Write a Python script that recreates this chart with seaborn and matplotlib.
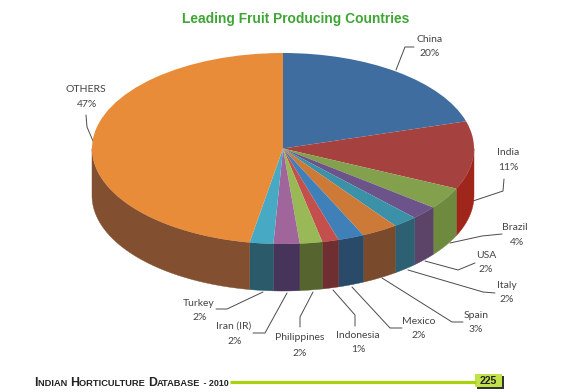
import numpy as np
import matplotlib
matplotlib.use('Agg')
import matplotlib.pyplot as plt
import seaborn as sns

# fatias (sentido horario, a partir do topo)
paises = ['China', 'India', 'Brazil', 'USA', 'Italy', 'Spain', 'Mexico',
          'Indonesia', 'Philippines', 'Iran (IR)', 'Turkey', 'OTHERS']
rotulos = ['20%', '11%', '4%', '2%', '2%', '3%', '2%', '1%', '2%', '2%', '2%', '47%']
shares = [20.4, 11.5, 3.7, 2.3, 2.1, 3.1, 2.2, 1.4, 1.9, 2.2, 2.0, 47.2]

cores_topo = ['#3F6D9F', '#A5423F', '#83A04D', '#6C5389', '#3A91A8', '#CD7A39',
              '#3F80B8', '#C4504E', '#98B955', '#A0669C', '#48A9C5', '#E98C3A']
cores_lado = ['#2F5378', '#A0261C', '#6E8A3F', '#5B4468', '#2D6072', '#7A4A2C',
              '#2A4A6A', '#6F2E30', '#566530', '#47345B', '#2B5A6B', '#825030']

sns.set_theme(style='white')
plt.rcParams['font.family'] = ['Lato', 'DejaVu Sans']

W, H = 580, 392
fig = plt.figure(figsize=(W / 100, H / 100), dpi=100, facecolor='white')

# camada em pixels para textos e linhas
ax = fig.add_axes([0, 0, 1, 1])
ax.set_xlim(0, W)
ax.set_ylim(H, 0)
ax.axis('off')

# elipse do topo da pizza
esq, dir_, cima, baixo = 92, 474, 53, 244
profundidade = 47 / ((baixo - cima) / 2)
ax_pie = fig.add_axes([esq / W, 1 - baixo / H, (dir_ - esq) / W, (baixo - cima) / H])
ax_pie.patch.set_alpha(0)

palette_topo = sns.color_palette(cores_topo)
palette_lado = sns.color_palette(cores_lado)

# lateral visivel: so a metade de baixo da elipse
fim = np.cumsum(shares) / sum(shares) * 360
inicio = np.r_[0, fim[:-1]]
for a, b, cor in zip(inicio, fim, palette_lado):
    a, b = max(a, 90), min(b, 270)
    if b <= a:
        continue
    th = np.radians(np.linspace(a, b, 60))
    xs = np.sin(th)
    ys = np.cos(th)
    ax_pie.fill(np.r_[xs, xs[::-1]], np.r_[ys, ys[::-1] - profundidade],
                color=cor, lw=0.3, clip_on=False)

ax_pie.pie(shares, colors=palette_topo, startangle=90, counterclock=False,
           radius=1, wedgeprops={'linewidth': 0})
ax_pie.set_aspect('auto')
ax_pie.set_xlim(-1, 1)
ax_pie.set_ylim(-1, 1)
ax_pie.axis('off')

# linhas de chamada (pixels) e centro de cada rotulo
linhas = [
    [(396, 70), (405, 47), (414, 47)],
    [(473, 201), (503, 191), (504, 179)],
    [(450, 243), (482, 236), (502, 234)],
    [(425, 261), (458, 270), (475, 263)],
    [(408, 270), (483, 292), (495, 293)],
    [(382, 278), (452, 322), (463, 322)],
    [(352, 287), (390, 328), (402, 328)],
    [(333, 290), (355, 315), (355, 326)],
    [(313, 292), (300, 317), (300, 327)],
    [(287, 293), (265, 333), (253, 333)],
    [(263, 292), (227, 309), (216, 309)],
    [(93, 141), (87, 127), (86, 115)],
]
pos_nome = [(430, 39), (508, 152), (515, 227), (486, 256), (507, 286), (476, 316),
            (419, 322), (358, 336), (300, 338), (234, 326), (199, 303), (86, 89)]
pos_pct = [(430, 53), (508, 167), (517, 242), (486, 270), (507, 300), (476, 330),
           (419, 336), (358, 350), (300, 353), (235, 341), (200, 317), (87, 104)]

for pts, nome, pct, p1, p2 in zip(linhas, paises, rotulos, pos_nome, pos_pct):
    ax.plot(*zip(*pts), color='#4A4A4A', lw=0.7, solid_joinstyle='miter')
    ax.text(*p1, nome, fontsize=7.5, color='#444444', ha='center', va='center')
    ax.text(*p2, pct, fontsize=7.5, color='#444444', ha='center', va='center')

ax.text(295.5, 19, 'Leading Fruit Producing Countries', fontsize=9.9, fontweight='bold',
        family='Liberation Sans', color='#3FA535', ha='center', va='center')

# rodape em versalete: cada trecho e um texto separado
trechos = [('I', 8.8), ('NDIAN ', 6.7), ('H', 8.8), ('ORTICULTURE ', 6.7),
           ('D', 8.8), ('ATABASE', 6.7), (' - 2010', 6.4)]
x = 34
rend = fig.canvas.get_renderer()
for t, tam in trechos:
    txt = ax.text(x, 386, t.replace(' ', '\u00a0'), fontsize=tam, fontweight='bold',
                  family='Liberation Sans', color='#222222', ha='left', va='baseline')
    x = txt.get_window_extent(rend).x1 + 0.3

ax.plot([230, 476], [382, 382], color='#A9D20C', lw=2.3, solid_capstyle='butt')
ax.fill([477, 504, 504, 477], [376, 376, 389, 389], color='#333333', lw=0)
ax.fill([475, 502, 502, 475], [374, 374, 387, 387], color='#C3E24A', lw=0)
ax.text(488.5, 381, '225', fontsize=7.6, fontweight='bold', family='Liberation Sans',
        color='#222222', ha='center', va='center')

fig.savefig('out.png', dpi=100)
